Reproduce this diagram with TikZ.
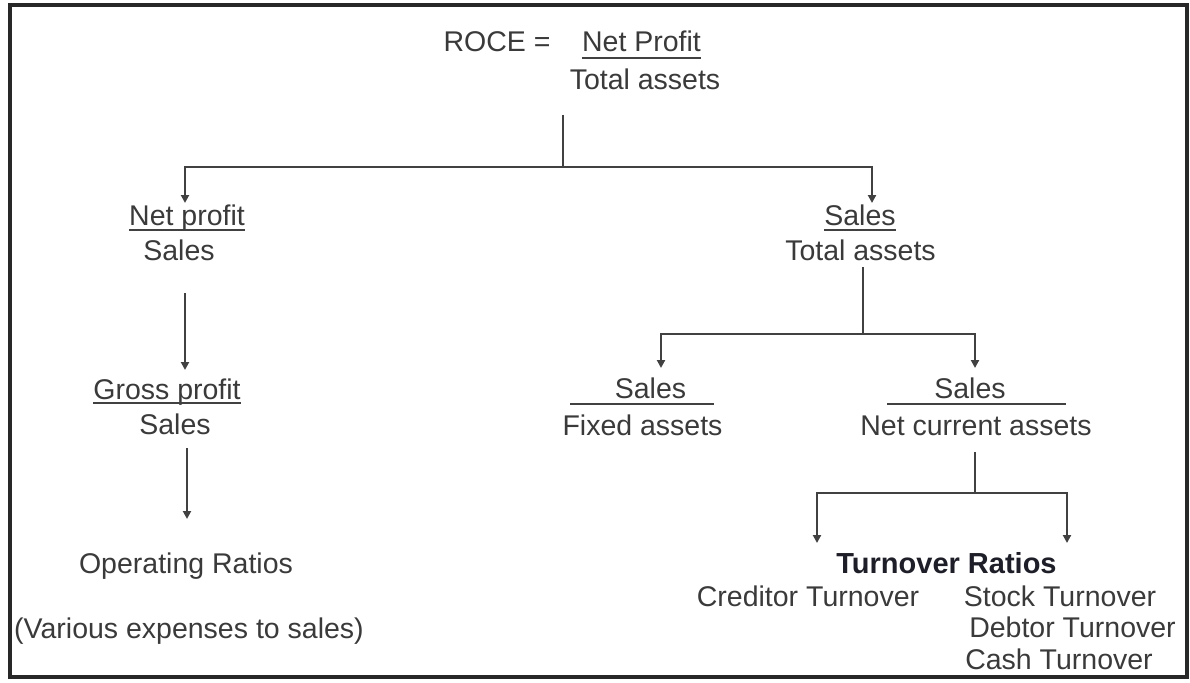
\documentclass[tikz,border=0pt]{standalone}
\usepackage{fontspec}
\setmainfont{Liberation Sans}
\usetikzlibrary{arrows.meta}
\definecolor{txt}{RGB}{58,58,58}
\definecolor{boldtxt}{RGB}{30,30,40}
\definecolor{ln}{RGB}{65,65,65}
\definecolor{frame}{RGB}{40,40,40}
\begin{document}
\begin{tikzpicture}[x=1pt,y=-1pt,
  lbl/.style={anchor=base,inner sep=0pt,text=txt,font=\fontsize{28.5}{34}\selectfont},
  boldlbl/.style={anchor=base,inner sep=0pt,text=boldtxt,font=\fontsize{29}{34}\selectfont\bfseries},
  wire/.style={draw=ln,line width=2.8pt},
  arr/.style={wire,-{Triangle[length=8pt,width=8pt]}},
  bar/.style={draw=ln,line width=2.8pt}]
\useasboundingbox (0,0) rectangle (1190,682);
\draw[frame,line width=3.5pt] (10,5) rectangle (1187,677);

% ROCE at the top
\node[lbl] (roce) at (497,52) {ROCE =};
\node[lbl] (npf) at (641.5,52) {Net Profit};
\node[lbl] (ta0) at (645,90) {Total assets};
\draw[bar] ([yshift=-6pt]npf.base west) -- ([yshift=-6pt]npf.base east);

% left branch: margins
\node[lbl] (np) at (187,225) {Net profit};
\node[lbl] (s1) at (179,260) {Sales};
\draw[bar] ([yshift=-5pt]np.base west) -- ([yshift=-5pt]np.base east);
\node[lbl] (gp) at (167,399) {Gross profit};
\node[lbl] (s2) at (175,434) {Sales};
\draw[bar] ([yshift=-4pt]gp.base west) -- ([yshift=-4pt]gp.base east);
\node[lbl] (op) at (186,573) {Operating Ratios};
\node[lbl] (ve) at (189,638) {(Various expenses to sales)};

% right branch: asset utilisation
\node[lbl] (s3) at (860,225) {Sales};
\node[lbl] (ta1) at (860.5,260) {Total assets};
\draw[bar] ([yshift=-5pt]s3.base west) -- ([yshift=-5pt]s3.base east);
\node[lbl] (s4) at (650.5,398) {Sales};
\node[lbl] (fa) at (642.5,435) {Fixed assets};
\node[lbl] (s5) at (970,398) {Sales};
\node[lbl] (nca) at (976,435) {Net current assets};
\coordinate (f4a) at (570,404);
\coordinate (f4b) at (714,404);
\coordinate (f5a) at (887,404);
\coordinate (f5b) at (1066,404);
\draw[bar] (f4a) -- (f4b);
\draw[bar] (f5a) -- (f5b);

% turnover ratios
\node[boldlbl] (tr) at (946.5,573) {Turnover Ratios};
\node[lbl] (ct) at (808,606) {Creditor Turnover};
\node[lbl] (st) at (1060,606) {Stock Turnover};
\node[lbl] (dt) at (1072.5,637) {Debtor Turnover};
\node[lbl] (cash) at (1059,669) {Cash Turnover};

% connectors
\coordinate (t0) at (563,115);
\coordinate (t1) at (563,167);
\coordinate (aL) at (185,203);
\coordinate (aR) at (872,203);
\draw[wire] (t0) -- (t1);
\draw[arr] (t1) -| (aL);
\draw[arr] (t1) -| (aR);

\coordinate (b0) at (185,293);
\coordinate (b1) at (185,370);
\draw[arr] (b0) -- (b1);
\coordinate (c0) at (187,448);
\coordinate (c1) at (187,519);
\draw[arr] (c0) -- (c1);

\coordinate (d0) at (863,267);
\coordinate (d1) at (863,334);
\coordinate (dL) at (661,368);
\coordinate (dR) at (975,368);
\draw[wire] (d0) -- (d1);
\draw[arr] (d1) -| (dL);
\draw[arr] (d1) -| (dR);

\coordinate (e0) at (975,452);
\coordinate (e1) at (975,493);
\coordinate (eL) at (817,543);
\coordinate (eR) at (1067,543);
\draw[wire] (e0) -- (e1);
\draw[arr] (e1) -| (eL);
\draw[arr] (e1) -| (eR);
\end{tikzpicture}
\end{document}
